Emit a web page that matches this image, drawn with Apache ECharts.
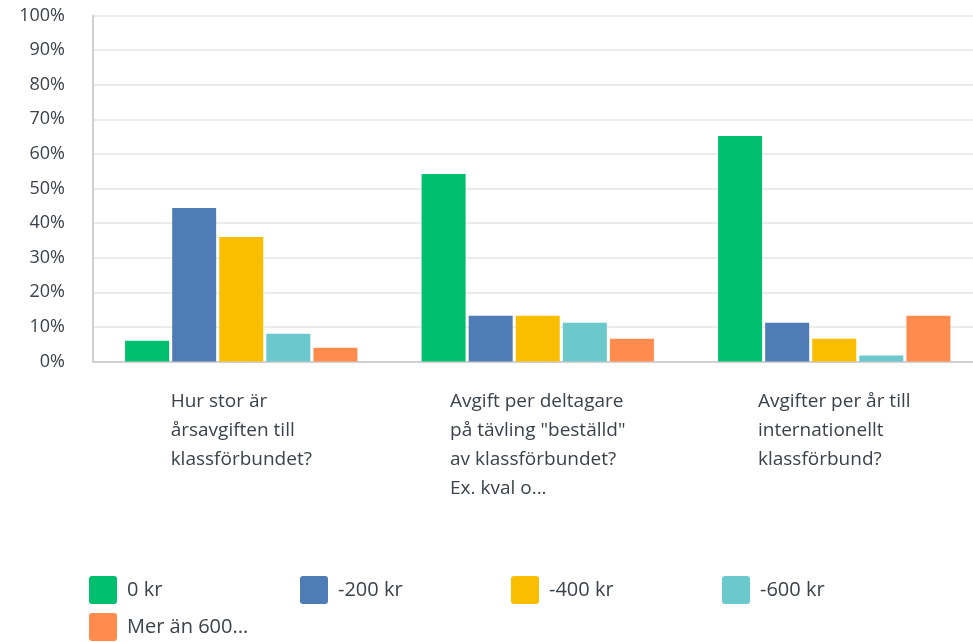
<!DOCTYPE html>
<html>
<head>
<meta charset="utf-8">
<script src="https://cdn.jsdelivr.net/npm/echarts@6/dist/echarts.min.js"></script>
<style>
html,body{margin:0;padding:0;background:#fff;overflow:hidden;}
#chart{width:984px;height:642px;}
</style>
</head>
<body>
<div id="chart"></div>
<script>
var categories = [
  'Hur stor är\nårsavgiften till\nklassförbundet?',
  'Avgift per deltagare\npå tävling "beställd"\nav klassförbundet?\nEx. kval o...',
  'Avgifter per år till\ninternationellt\nklassförbund?'
];
var seriesNames = ['0 kr', '-200 kr', '-400 kr', '-600 kr', 'Mer än 600...'];
var values0kr   = [6.0, 54.2, 65.2];
var values200kr = [44.4, 13.2, 11.2];
var values400kr = [36.0, 13.2, 6.6];
var values600kr = [8.0, 11.2, 1.7];
var valuesMer   = [4.0, 6.6, 13.2];
var yTicks = [0, 10, 20, 30, 40, 50, 60, 70, 80, 90, 100];
var colors = ['#00BF6F', '#507CB6', '#F9BE00', '#6BC8CD', '#FF8B4F'];

var seriesData = [values0kr, values200kr, values400kr, values600kr, valuesMer];
var FONT = 'Open Sans';
var TEXT = '#3b4249';

var legends = seriesNames.map(function (name, i) {
  return {
    left: 89 + (i % 4) * 211,
    top: 576 + Math.floor(i / 4) * 37,
    padding: 0,
    itemWidth: 28, itemHeight: 28, itemGap: 0,
    icon: 'path://M3,0 H25 A3,3 0 0 1 28,3 V25 A3,3 0 0 1 25,28 H3 A3,3 0 0 1 0,25 V3 A3,3 0 0 1 3,0 Z',
    textStyle: {fontSize: 20, fontFamily: FONT, color: TEXT, padding: [0, 0, 0, 5]},
    data: [name]
  };
});

var chart = echarts.init(document.getElementById('chart'), null, {renderer: 'canvas'});
chart.setOption({
  animation: false,
  backgroundColor: '#ffffff',
  color: colors,
  textStyle: {fontFamily: FONT},
  grid: {left: 93, top: 15.5, height: 346, width: 889.5, containLabel: false},
  legend: legends,
  xAxis: {
    type: 'category',
    data: categories,
    axisTick: {show: false},
    axisLine: {lineStyle: {color: '#d0d0d0', width: 2}},
    axisLabel: {
      interval: 0,
      margin: 26,
      formatter: function (v) { return '{a|' + v.split('\n').join('}\n{a|') + '}'; },
      rich: {a: {align: 'left', fontSize: 19, lineHeight: 29, fontFamily: FONT, color: TEXT}}
    }
  },
  yAxis: {
    type: 'value', min: 0, max: 100, interval: 10,
    axisLine: {show: true, lineStyle: {color: '#d0d0d0', width: 2}},
    axisTick: {show: false},
    splitLine: {lineStyle: {color: '#ececec', width: 2}},
    axisLabel: {
      margin: 28, fontSize: 18, color: TEXT, fontFamily: FONT,
      formatter: function (v) { return yTicks.indexOf(v) >= 0 ? v + '%' : ''; }
    }
  },
  series: seriesNames.map(function (name, i) {
    return {
      name: name, type: 'bar', data: seriesData[i],
      barWidth: 44, barGap: '7%'
    };
  })
});
</script>
</body>
</html>
